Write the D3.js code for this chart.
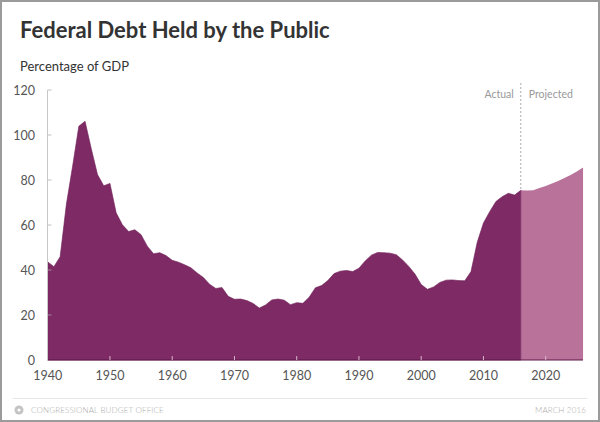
<!DOCTYPE html>
<html>
<head>
<meta charset="utf-8">
<script src="https://cdn.jsdelivr.net/npm/d3@7"></script>
<style>
  body { margin: 0; background: #fff; }
  svg { display: block; font-family: Lato, "Open Sans", sans-serif; }
</style>
</head>
<body>
<svg id="chart" width="600" height="422"></svg>
<script>
// debt held by the public, percent of GDP
const actualYears = d3.range(1940, 2017)
const actualValues = [
  43.6, 41.5, 45.9, 69.2, 86.1, 103.9, 106.1, 93.9, 82.4, 77.4,
  78.5, 65.4, 60.1, 57.1, 57.9, 55.7, 50.6, 47.2, 47.7, 46.4,
  44.3, 43.5, 42.3, 41.0, 38.7, 36.7, 33.7, 31.8, 32.2, 28.3,
  27.0, 27.1, 26.4, 25.1, 23.1, 24.5, 26.7, 27.1, 26.6, 24.6,
  25.5, 25.2, 27.9, 32.1, 33.1, 35.3, 38.4, 39.5, 39.8, 39.3,
  40.8, 44.0, 46.6, 47.8, 47.7, 47.5, 46.8, 44.5, 41.6, 38.2,
  33.6, 31.4, 32.5, 34.5, 35.5, 35.6, 35.3, 35.2, 39.3, 52.3,
  60.9, 65.9, 70.4, 72.6, 74.1, 73.3, 75.4
]
const projYears = d3.range(2016, 2027)
const projValues = [75.4, 75.3, 75.4, 76.4, 77.3, 78.4, 79.6, 80.9, 82.2, 83.8, 85.6]

const xTicks = [1940, 1950, 1960, 1970, 1980, 1990, 2000, 2010, 2020]
const yTicks = [0, 20, 40, 60, 80, 100, 120]

const svg = d3.select('#chart')
const W = 600, H = 422

const x = d3.scaleLinear().domain([1940, 2020]).range([47.7, 545.7])
const y = d3.scaleLinear().domain([0, 120]).range([360, 90])

const actual = actualYears.map((yr, i) => ({ yr: yr, v: actualValues[i] }))
const proj = projYears.map((yr, i) => ({ yr: yr, v: projValues[i] }))

var area = d3.area()
  .x(d => x(d.yr))
  .y0(y(0))
  .y1(d => y(d.v))

// frame
svg.append('rect')
  .attr('x', 1).attr('y', 1)
  .attr('width', W - 2).attr('height', H - 2)
  .attr('fill', 'none')
  .attr('stroke', '#9b9b9b')
  .attr('stroke-width', 2)

svg.append('text')
  .attr('x', 20).attr('y', 38)
  .attr('font-size', 22)
  .attr('font-weight', 700)
  .attr('fill', '#333')
  .text('Federal Debt Held by the Public')

svg.append('text')
  .attr('x', 20).attr('y', 71)
  .attr('font-size', 13)
  .attr('fill', '#333')
  .text('Percentage of GDP')

// areas
svg.append('path')
  .datum(proj)
  .attr('d', area)
  .attr('fill', '#b9739b')

svg.append('path')
  .datum(actual)
  .attr('d', area)
  .attr('fill', '#7d2a65')
  .attr('stroke', '#6e1f58')
  .attr('stroke-width', 0.6)

// baseline
svg.append('line')
  .attr('x1', x(1940)).attr('x2', x(2026))
  .attr('y1', y(0)).attr('y2', y(0))
  .attr('stroke', '#5c1848')
  .attr('stroke-width', 1.2)

// y axis
svg.append('line')
  .attr('x1', 47.5).attr('x2', 47.5)
  .attr('y1', y(120)).attr('y2', y(0))
  .attr('stroke', '#c8c8c8')
  .attr('stroke-width', 1)

var yAx = svg.append('g').attr('id', 'yaxis')
yTicks.forEach(t => {
  if (t > 0) {
    yAx.append('line')
      .attr('x1', 47.5).attr('x2', 51.5)
      .attr('y1', y(t)).attr('y2', y(t))
      .attr('stroke', '#c0c0c0')
      .attr('stroke-opacity', t >= 100 || t == 60 || t == 80 ? 1 : 0.6)
  }
  yAx.append('text')
    .attr('x', 35).attr('y', y(t) + 4.5)
    .attr('text-anchor', 'end')
    .attr('font-size', 12.5)
    .attr('fill', '#555')
    .text(t)
})

var xAx = svg.append('g').attr('id', 'xaxis')
xTicks.forEach(t => {
  if (t > 1940) {
    xAx.append('line')
      .attr('x1', x(t)).attr('x2', x(t))
      .attr('y1', y(0) - 4).attr('y2', y(0))
      .attr('stroke', '#d9b3cc')
      .attr('stroke-width', 1)
  }
  xAx.append('text')
    .attr('x', x(t)).attr('y', 380)
    .attr('text-anchor', 'middle')
    .attr('font-size', 12.5)
    .attr('fill', '#555')
    .text(t)
})

// actual / projected divider
svg.append('line')
  .attr('x1', x(2016)).attr('x2', x(2016))
  .attr('y1', 83).attr('y2', y(75.4))
  .attr('stroke', '#aaa')
  .attr('stroke-width', 1)
  .attr('stroke-dasharray', '2,2')

svg.append('text')
  .attr('x', x(2016) - 7).attr('y', 98)
  .attr('text-anchor', 'end')
  .attr('font-size', 10.5)
  .attr('fill', '#999')
  .text('Actual')

svg.append('text')
  .attr('x', x(2016) + 8).attr('y', 98)
  .attr('font-size', 10.5)
  .attr('fill', '#999')
  .text('Projected')

// footer
svg.append('line')
  .attr('x1', 13).attr('x2', 587)
  .attr('y1', 398.5).attr('y2', 398.5)
  .attr('stroke', '#e6e6e6')

svg.append('circle')
  .attr('cx', 19).attr('cy', 410).attr('r', 4.5)
  .attr('fill', '#c4c4c4')
svg.append('circle')
  .attr('cx', 19).attr('cy', 410).attr('r', 1.6)
  .attr('fill', '#fff')

svg.append('text')
  .attr('x', 31).attr('y', 413)
  .attr('font-size', 8)
  .attr('letter-spacing', 0.15)
  .attr('font-weight', 300)
  .attr('fill', '#aaa')
  .text('CONGRESSIONAL BUDGET OFFICE')

svg.append('text')
  .attr('x', 586).attr('y', 413)
  .attr('text-anchor', 'end')
  .attr('font-size', 8)
  .attr('letter-spacing', 0.15)
  .attr('font-weight', 300)
  .attr('fill', '#aaa')
  .text('MARCH 2016')
</script>
</body>
</html>
